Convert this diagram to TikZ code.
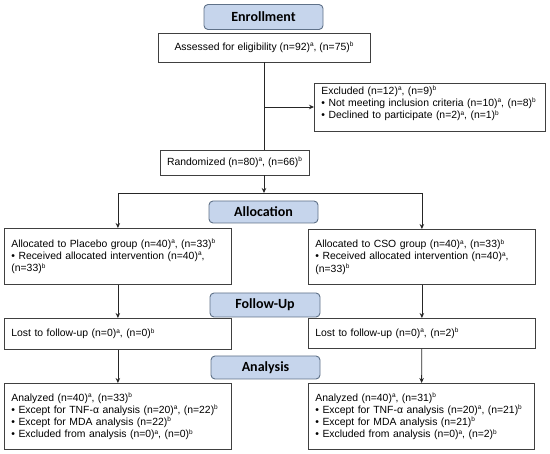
\documentclass[tikz,border=0pt]{standalone}
\usepackage{fontspec}
\setmainfont{Liberation Sans}
\newfontfamily\headfont{Carlito}
\usetikzlibrary{arrows.meta}
\definecolor{headfill}{HTML}{C6D5EC}
\definecolor{headline}{HTML}{5F7188}
\definecolor{boxline}{HTML}{404040}
\newcommand{\supx}[1]{\raisebox{3.6pt}{\fontsize{6.5}{7}\selectfont #1}}
\newcommand{\sa}{\supx{a}}
\newcommand{\sbb}{\supx{b}}
\tikzset{
  head/.style={draw=headline, fill=headfill, rounded corners=4pt, line width=0.9pt,
    font=\headfont\bfseries\fontsize{14}{16}\selectfont, inner sep=0pt},
  infobox/.style={draw=boxline, line width=0.8pt, inner xsep=7pt, inner ysep=0pt,
    align=left, font=\fontsize{10.4}{12.2}\selectfont, anchor=north west},
  conn/.style={line width=0.8pt, draw=black!85},
  arr/.style={conn, -{Stealth[length=5pt,width=4.5pt]}}
}
\begin{document}
\begin{tikzpicture}[x=1pt,y=-1pt]
\useasboundingbox (0,0) rectangle (550,454);
% headings
\node[head, minimum width=119pt, minimum height=25pt] (enroll) at (263.5,17) {Enrollment};
\node[head, minimum width=109pt, minimum height=22pt] (alloc) at (263.5,212) {Allocation};
\node[head, minimum width=110pt, minimum height=24pt] (follow) at (265,305) {Follow-Up};
\node[head, minimum width=109pt, minimum height=23pt] (anal) at (265.5,367.5) {Analysis};
% boxes
\node[infobox, anchor=center, align=center, minimum width=212pt, minimum height=29pt] (assess) at (264,47.5)
  {Assessed for eligibility (n=92)\sa, (n=75)\sbb};
\node[infobox, minimum width=231pt, minimum height=48pt, text width=217pt] (excl) at (314,83)
  {Excluded (n=12)\sa, (n=9)\sbb\\
   • Not meeting inclusion criteria (n=10)\sa, (n=8)\sbb\\
   • Declined to participate (n=2)\sa, (n=1)\sbb\rule[-10pt]{0pt}{0pt}};
\node[infobox, anchor=center, align=center, minimum width=99pt, minimum height=25pt] (rand) at (234.5,162.5)
  {Randomized (n=80)\sa, (n=66)\sbb};
\node[infobox, minimum width=227pt, minimum height=56pt, text width=213pt] (allocL) at (4,228)
  {Allocated to Placebo group (n=40)\sa, (n=33)\sbb\\
   • Received allocated intervention (n=40)\sa,\\
   (n=33)\sbb};
\node[infobox, minimum width=227pt, minimum height=55pt, text width=213pt] (allocR) at (308,229)
  {Allocated to CSO group (n=40)\sa, (n=33)\sbb\\
   • Received allocated intervention (n=40)\sa,\\
   (n=33)\sbb};
\node[infobox, minimum width=227pt, minimum height=31pt, text width=213pt] (lostL) at (4,318)
  {Lost to follow-up (n=0)\sa, (n=0)\sbb};
\node[infobox, minimum width=227pt, minimum height=30pt, text width=213pt] (lostR) at (308,318)
  {Lost to follow-up (n=0)\sa, (n=2)\sbb};
\node[infobox, minimum width=227pt, minimum height=66pt, text width=213pt] (anL) at (4,383)
  {Analyzed (n=40)\sa, (n=33)\sbb\\
   • Except for TNF-α analysis (n=20)\sa, (n=22)\sbb\\
   • Except for MDA analysis (n=22)\sbb\\
   • Excluded from analysis (n=0)\sa, (n=0)\sbb};
\node[infobox, minimum width=226pt, minimum height=66pt, text width=212pt] (anR) at (308,383)
  {Analyzed (n=40)\sa, (n=31)\sbb\\
   • Except for TNF-α analysis (n=20)\sa, (n=21)\sbb\\
   • Except for MDA analysis (n=21)\sbb\\
   • Excluded from analysis (n=0)\sa, (n=2)\sbb};
% connectors
\coordinate (split) at (264,193);
\coordinate (exclpt) at (264,107);
\draw[conn] (assess.south) -- (rand.north -| assess.south);
\draw[arr] (exclpt) -- (excl.west |- exclpt);
\draw[arr] (rand.south -| assess.south) -- (split);
\draw[arr] (split) -| (allocL.north);
\draw[arr] (split) -| (allocR.north);
\draw[arr] (allocL) -- (lostL);
\draw[arr] (allocR) -- (lostR);
\draw[arr] (lostL) -- (anL);
\draw[arr] (lostR) -- (anR);
\end{tikzpicture}
\end{document}
